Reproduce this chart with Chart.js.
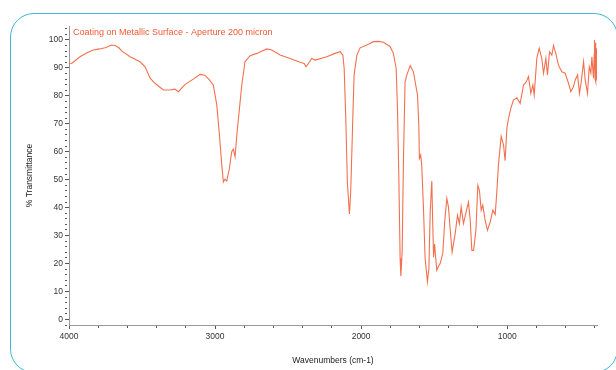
<!DOCTYPE html>
<html>
<head>
<meta charset="utf-8">
<script src="https://cdn.jsdelivr.net/npm/chart.js@4.4.1/dist/chart.umd.min.js"></script>
<style>
  html, body { margin: 0; padding: 0; background: #fff; }
  #wrap { position: relative; width: 616px; height: 370px; overflow: hidden; }
  #frame {
    position: absolute; left: 10px; top: 13px; width: 608px; height: 360px;
    border: 1.5px solid #41b6d6; border-radius: 24px; box-sizing: border-box;
  }
  canvas { position: absolute; left: 0; top: 0; }
</style>
</head>
<body>
<div id="wrap">
  <div id="frame"></div>
  <canvas id="irChart" width="616" height="370"></canvas>
</div>
<script>
// IR spectrum
const chartTitle = "Coating on Metallic Surface - Aperture 200 micron";
const xTitle = "Wavenumbers (cm-1)";
const yTitle = "% Transmittance";

const wavenumbers = [
  4000, 3982, 3925, 3880, 3834, 3790, 3753, 3708, 3685, 3660, 3639, 3582, 3514, 3479, 3445, 3411,
  3354, 3308, 3275, 3251, 3205, 3149, 3103, 3070, 3040, 3012, 2988, 2970, 2954, 2943, 2932, 2920,
  2902, 2886, 2875, 2863, 2851, 2833, 2817, 2795, 2760, 2714, 2680, 2646, 2612, 2555, 2486, 2418,
  2390, 2377, 2361, 2338, 2315, 2235, 2178, 2144, 2125, 2116, 2105, 2094, 2080, 2072, 2068, 2057,
  2048, 2029, 2007, 1950, 1916, 1880, 1847, 1801, 1779, 1760, 1751, 1742, 1733, 1728, 1719, 1710,
  1699, 1687, 1664, 1642, 1614, 1605, 1601, 1592, 1585, 1573, 1562, 1546, 1536, 1527, 1516, 1510,
  1504, 1497, 1482, 1470, 1459, 1441, 1427, 1413, 1402, 1386, 1377, 1356, 1340, 1327, 1315, 1299,
  1281, 1265, 1253, 1242, 1230, 1214, 1201, 1190, 1178, 1167, 1151, 1135, 1116, 1098, 1082, 1071,
  1060, 1041, 1025, 1014, 1002, 991, 975, 957, 934, 911, 888, 870, 854, 838, 824, 815,
  797, 781, 763, 751, 735, 724, 710, 694, 683, 667, 649, 626, 603, 580, 564, 546,
  534, 518, 505, 493, 477, 466, 450, 438, 427, 420, 409, 404, 402, 398, 395, 392,
  388, 385
];
const transmittance = [
  91.5, 91.6, 94.0, 95.3, 96.4, 96.8, 97.2, 98.2, 98.0, 97.3, 96.1, 94.0, 92.2, 90.4, 86.3, 84.5,
  82.1, 82.1, 82.4, 81.5, 84.1, 86.0, 87.7, 87.4, 85.8, 83.9, 76.7, 66.0, 55.2, 49.2, 50.2, 49.5,
  54.0, 60.0, 60.9, 58.2, 66.0, 75.5, 83.9, 92.2, 94.4, 95.2, 96.0, 96.8, 96.4, 94.6, 93.4, 92.0,
  91.6, 90.4, 91.6, 93.4, 92.8, 94.0, 95.2, 95.8, 94.6, 89.8, 71.9, 49.0, 37.7, 45.0, 51.6, 71.9,
  87.5, 94.6, 97.2, 98.5, 99.4, 99.5, 99.2, 97.6, 95.2, 89.8, 75.5, 51.6, 21.8, 15.5, 24.1, 57.6,
  85.0, 87.5, 90.8, 88.6, 80.3, 69.5, 57.6, 58.8, 55.2, 39.7, 22.0, 13.5, 18.2, 38.5, 49.5, 35.0,
  22.3, 27.0, 17.6, 19.0, 20.0, 23.5, 35.5, 43.3, 40.2, 29.5, 24.1, 30.7, 37.3, 34.3, 40.2, 34.3,
  38.5, 42.0, 35.5, 24.7, 24.7, 31.9, 48.0, 46.2, 39.1, 40.9, 35.5, 31.9, 34.9, 39.1, 37.5, 45.6,
  55.2, 65.5, 62.4, 56.8, 68.4, 71.9, 75.5, 78.5, 79.3, 77.3, 83.9, 85.0, 86.9, 80.9, 83.9, 80.3,
  93.4, 97.0, 93.4, 88.1, 93.4, 87.5, 95.8, 94.6, 98.0, 95.2, 91.0, 88.6, 88.1, 84.5, 81.5, 83.3,
  85.7, 87.5, 80.9, 85.0, 92.2, 85.7, 80.9, 90.4, 88.1, 94.0, 86.3, 95.0, 100.0, 86.0, 99.0, 85.0,
  97.0, 85.5
];

// labelled ticks, minor ticks go between them
const xTickLabels = [4000, 3000, 2000, 1000];
const xMinorStep = 200;
const yTickLabels = [0, 10, 20, 30, 40, 50, 60, 70, 80, 90, 100];
const yMinorStep = 2;

const xMin = 385, xMax = 4000;
const yMin = -2, yMax = 105;

const points = wavenumbers.map((w, i) => ({ x: w, y: transmittance[i] }));

const FONT = "'Liberation Sans', Arial, sans-serif";
const lineColor = "#f3704f";

function stepTicks(lo, hi, step) {
  let out = [];
  for (let v = Math.ceil(lo / step) * step; v <= hi; v += step) out.push({ value: v });
  return out;
}

// title drawn inside the plot, top-left
const innerTitle = {
  id: "innerTitle",
  afterDraw(chart) {
    const ctx = chart.ctx;
    const area = chart.chartArea;
    ctx.save();
    ctx.font = "9px " + FONT;
    ctx.fillStyle = "#f05a35";
    ctx.textBaseline = "middle";
    ctx.fillText(chartTitle, area.left + 4, area.top + 7);
    ctx.restore();
  }
};

const isMajor = (ctx, labels) => ctx.tick && labels.includes(ctx.tick.value);

new Chart(document.getElementById("irChart"), {
  type: "line",
  data: {
    datasets: [{
      data: points,
      borderColor: lineColor,
      borderWidth: 1.1,
      pointRadius: 0,
      tension: 0,
      fill: false
    }]
  },
  options: {
    responsive: false,
    animation: false,
    layout: { padding: { left: 0, right: 19, top: 26, bottom: 0 } },
    plugins: { legend: { display: false }, tooltip: { enabled: false } },
    scales: {
      x: {
        type: "linear",
        reverse: true,
        min: xMin,
        max: xMax,
        afterFit: s => { s.height = 45; },
        afterBuildTicks: s => { s.ticks = stepTicks(xMin, xMax, xMinorStep); },
        border: { color: "#999", width: 1 },
        grid: {
          drawOnChartArea: false,
          tickLength: 4,
          tickColor: "#555",
          tickBorderDash: ctx => isMajor(ctx, xTickLabels) ? [] : [2, 20]
        },
        ticks: {
          autoSkip: false,
          maxRotation: 0,
          padding: 3,
          color: "#333",
          font: { family: FONT, size: 8.5 },
          callback: v => (xTickLabels.includes(v) ? String(v) : "")
        },
        title: {
          display: true,
          text: xTitle,
          color: "#222",
          font: { family: FONT, size: 8.5 },
          padding: { top: 0, bottom: 4 }
        }
      },
      y: {
        min: yMin,
        max: yMax,
        afterFit: s => { s.width = 69; },
        afterBuildTicks: s => { s.ticks = stepTicks(yMin, yMax, yMinorStep); },
        border: { color: "#999", width: 1 },
        grid: {
          drawOnChartArea: false,
          tickLength: 4,
          tickColor: "#555",
          tickBorderDash: ctx => isMajor(ctx, yTickLabels) ? [] : [2, 20]
        },
        ticks: {
          autoSkip: false,
          padding: 2,
          color: "#333",
          font: { family: FONT, size: 8.5 },
          callback: v => (yTickLabels.includes(v) ? String(v) : "")
        },
        title: {
          display: true,
          text: yTitle,
          color: "#222",
          font: { family: FONT, size: 8.5 },
          padding: { top: 25, bottom: 0 }
        }
      }
    }
  },
  plugins: [innerTitle]
});
</script>
</body>
</html>
